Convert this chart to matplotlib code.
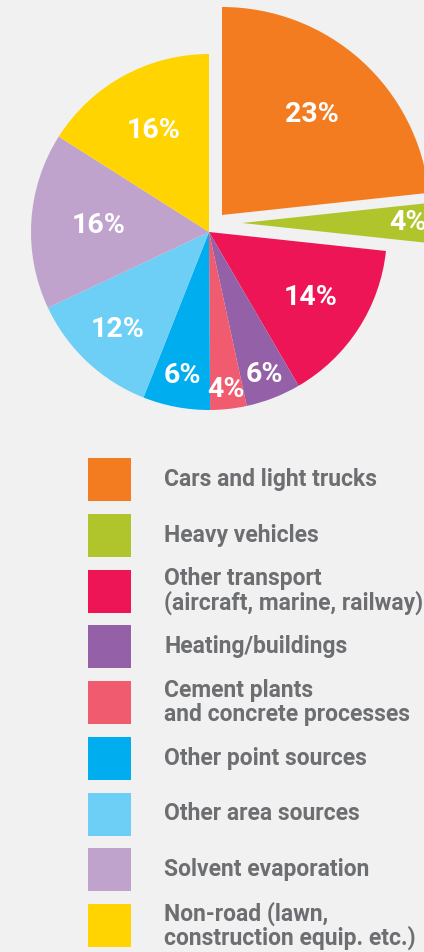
import numpy as np
import matplotlib.pyplot as plt
from matplotlib.patches import Rectangle

categories = [
    "Cars and light trucks",
    "Heavy vehicles",
    "Other transport\n(aircraft, marine, railway)",
    "Heating/buildings",
    "Cement plants\nand concrete processes",
    "Other point sources",
    "Other area sources",
    "Solvent evaporation",
    "Non-road (lawn,\nconstruction equip. etc.)",
]
# wedge shares as drawn in the picture, and the printed labels
shares = [23.3, 3.4, 14.9, 5.0, 3.3, 6.1, 12.0, 16.0, 16.0]
pct_labels = ["23%", "4%", "14%", "6%", "4%", "6%", "12%", "16%", "16%"]
colors = ["#f47c20", "#b0c52b", "#ee1556", "#9461a8", "#f15b6f",
          "#00aeef", "#6dcff6", "#c0a3cd", "#ffd400"]

BG = "#f1f1f1"
TEXT = "#6d6e71"
W, H = 424, 952
CX, CY = 209, H - 232
R = 178
label_r = [0.65, 0.8, 0.68, 0.86, 0.89, 0.82, 0.75, 0.62, 0.65]


def main():
    fig = plt.figure(figsize=(W / 100, H / 100), dpi=100, facecolor=BG)
    ax = fig.add_axes([0, 0, 1, 1])
    ax.set_facecolor(BG)

    wedges, _ = ax.pie(
        shares, colors=colors, startangle=90, counterclock=False,
        radius=R, center=(CX, CY), wedgeprops=dict(linewidth=0),
    )
    # pulled-out slices
    wedges[0].set_center((CX + 13, CY + 17))
    wedges[0].set_radius(208)
    wedges[1].set_center((CX + 33, CY + 9))
    wedges[1].set_radius(208)

    for w, lab, f in zip(wedges, pct_labels, label_r):
        mid = np.deg2rad((w.theta1 + w.theta2) / 2)
        x0, y0 = w.center
        ax.text(x0 + f * w.r * np.cos(mid), y0 + f * w.r * np.sin(mid), lab,
                ha="center", va="center", color="white", fontsize=20.5,
                fontweight="bold", family="Roboto")

    # legend
    for i, (name, c) in enumerate(zip(categories, colors)):
        top = 458 + i * 55.75
        ax.add_patch(Rectangle((88, H - top - 43), 43, 43, color=c, lw=0))
        ax.text(164, H - top - 21.5, name, ha="left", va="center",
                color=TEXT, fontsize=16.5, fontweight="bold", family="Roboto",
                linespacing=1.0)

    ax.set_xlim(0, W)
    ax.set_ylim(0, H)
    ax.set_aspect("equal")
    ax.axis("off")
    fig.savefig("out.png", dpi=100, facecolor=BG)


if __name__ == "__main__":
    main()
